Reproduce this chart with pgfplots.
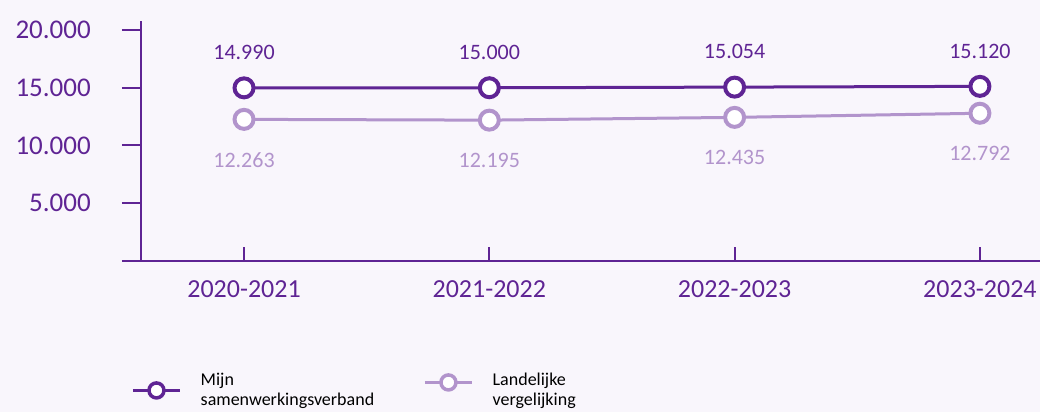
\documentclass[border=0pt]{standalone}
\usepackage{pgfplots}
\pgfplotsset{compat=1.18}
\usepackage{fontspec}
\setmainfont{Carlito}
\definecolor{dk}{RGB}{95,36,148}
\definecolor{lt}{RGB}{178,148,204}
\definecolor{bg}{RGB}{249,246,252}
\begin{document}
\begin{tikzpicture}
\fill[bg] (0bp,0bp) rectangle (1040bp,412bp);
\begin{axis}[
  at={(141bp,151bp)}, anchor=south west,
  scale only axis, width=899bp, height=240.3bp,
  xmin=-0.42, xmax=3.245, ymin=0, ymax=20805,
  clip=false,
  axis lines=left,
  axis line style={-, draw=dk, line width=2bp},
  x axis line style={shorten <=-19bp},
  xtick={0,1,2,3},
  xticklabels={2020-2021,2021-2022,2022-2023,2023-2024},
  ytick={5000,10000,15000,20000},
  scaled y ticks=false,
  tick align=inside,
  major tick length=14bp,
  tick style={draw=dk, line width=2bp},
  ytick style={/pgfplots/major tick length=19bp, xshift=-19bp},
  /pgf/number format/.cd, 1000 sep={.}, assume math mode=true, fixed, precision=0,
  /pgfplots/.cd,
  yticklabel style={font=\fontsize{27bp}{30bp}\selectfont, text=dk, inner sep=0pt, xshift=-50bp},
  xticklabel style={font=\fontsize{26bp}{30bp}\selectfont, text=dk, inner sep=0pt, yshift=-19bp},
  legend columns=2,
  legend cell align=left,
  legend style={at={(-0.0111,-0.466)}, anchor=north west, draw=none, fill=none,
    font=\fontsize{18bp}{20bp}\selectfont, inner sep=0pt,
    nodes={align=left, inner sep=0pt},
    /tikz/every odd column/.append style={column sep=19bp},
    /tikz/every even column/.append style={column sep=49bp}},
]
\addplot[dk, line width=3bp, mark=*, mark size=9.5bp,
  mark options={fill=white, draw=dk, line width=4bp},
  nodes near coords,
  every node near coord/.append style={font=\fontsize{22bp}{24bp}\selectfont, text=dk, anchor=south, inner sep=0pt, yshift=26bp},
  legend image code/.code={\draw[dk, line width=3.5bp] (0bp,0bp) -- (47bp,0bp); \draw[dk, line width=3.5bp, fill=white] (23.5bp,0bp) circle (7.5bp);}
] coordinates {(0,14990) (1,15000) (2,15054) (3,15120)};
\addlegendentry{Mijn\\samenwerkingsverband}
\addplot[lt, line width=3bp, mark=*, mark size=9.5bp,
  mark options={fill=white, draw=lt, line width=4bp},
  nodes near coords,
  every node near coord/.append style={font=\fontsize{22bp}{24bp}\selectfont, text=lt, anchor=north, inner sep=0pt, yshift=-31bp},
  legend image code/.code={\draw[lt, line width=3.5bp] (0bp,8bp) -- (47bp,8bp); \draw[lt, line width=3.5bp, fill=white] (23.5bp,8bp) circle (7.5bp);}
] coordinates {(0,12263) (1,12195) (2,12435) (3,12792)};
\addlegendentry{Landelijke\\vergelijking}
\end{axis}
\pgfresetboundingbox
\path[use as bounding box] (0bp,0bp) rectangle (1040bp,412bp);
\end{tikzpicture}
\end{document}
